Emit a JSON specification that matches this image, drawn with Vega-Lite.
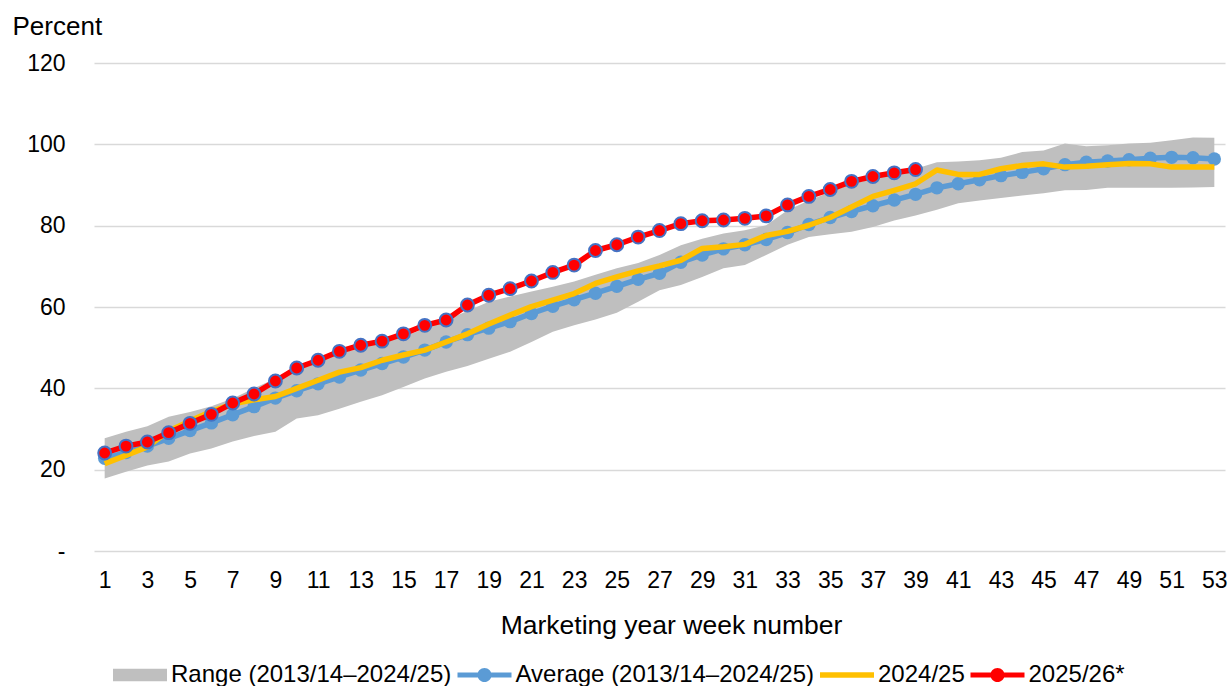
{
  "$schema": "https://vega.github.io/schema/vega-lite/v6.json",
  "width": 1131,
  "height": 488,
  "autosize": {"type": "none"},
  "padding": {"left": 94, "top": 63, "right": 4, "bottom": 135},
  "background": "white",
  "config": {
    "font": "Liberation Sans",
    "view": {"stroke": null},
    "axis": {"labelColor": "#000000", "titleColor": "#000000", "titleFontWeight": "normal"}
  },
  "data": {"values": [
    {"week": 1, "lo": 17.8, "hi": 27.7, "avg": 22.8, "y24": 21.5, "y25": 24.1},
    {"week": 2, "lo": 19.5, "hi": 29.3, "avg": 24.2, "y24": 23.5, "y25": 25.8},
    {"week": 3, "lo": 21.0, "hi": 30.7, "avg": 25.8, "y24": 25.6, "y25": 26.8},
    {"week": 4, "lo": 22.0, "hi": 33.0, "avg": 27.7, "y24": 29.5, "y25": 29.1},
    {"week": 5, "lo": 24.0, "hi": 34.2, "avg": 29.6, "y24": 32.0, "y25": 31.4},
    {"week": 6, "lo": 25.2, "hi": 35.6, "avg": 31.5, "y24": 34.3, "y25": 33.6},
    {"week": 7, "lo": 26.9, "hi": 37.5, "avg": 33.5, "y24": 36.2, "y25": 36.4},
    {"week": 8, "lo": 28.3, "hi": 40.0, "avg": 35.5, "y24": 37.2, "y25": 38.6},
    {"week": 9, "lo": 29.3, "hi": 42.4, "avg": 37.6, "y24": 38.0, "y25": 41.8},
    {"week": 10, "lo": 32.6, "hi": 44.9, "avg": 39.4, "y24": 40.0, "y25": 45.0},
    {"week": 11, "lo": 33.4, "hi": 46.9, "avg": 41.1, "y24": 42.0, "y25": 46.9},
    {"week": 12, "lo": 35.0, "hi": 48.6, "avg": 42.8, "y24": 44.0, "y25": 49.1},
    {"week": 13, "lo": 36.7, "hi": 49.8, "avg": 44.5, "y24": 45.1, "y25": 50.6},
    {"week": 14, "lo": 38.3, "hi": 51.4, "avg": 46.1, "y24": 46.9, "y25": 51.6},
    {"week": 15, "lo": 40.3, "hi": 52.7, "avg": 47.7, "y24": 48.2, "y25": 53.4},
    {"week": 16, "lo": 42.4, "hi": 54.7, "avg": 49.4, "y24": 49.4, "y25": 55.5},
    {"week": 17, "lo": 44.1, "hi": 56.8, "avg": 51.4, "y24": 51.4, "y25": 56.8},
    {"week": 18, "lo": 45.5, "hi": 59.0, "avg": 53.2, "y24": 53.4, "y25": 60.5},
    {"week": 19, "lo": 47.3, "hi": 61.3, "avg": 54.8, "y24": 55.8, "y25": 62.9},
    {"week": 20, "lo": 49.0, "hi": 62.6, "avg": 56.4, "y24": 58.0, "y25": 64.5},
    {"week": 21, "lo": 51.4, "hi": 63.8, "avg": 58.4, "y24": 60.1, "y25": 66.4},
    {"week": 22, "lo": 53.9, "hi": 65.0, "avg": 60.2, "y24": 61.7, "y25": 68.5},
    {"week": 23, "lo": 55.5, "hi": 66.3, "avg": 61.8, "y24": 63.3, "y25": 70.3},
    {"week": 24, "lo": 56.9, "hi": 67.9, "avg": 63.4, "y24": 65.8, "y25": 73.9},
    {"week": 25, "lo": 58.6, "hi": 69.5, "avg": 65.1, "y24": 67.4, "y25": 75.3},
    {"week": 26, "lo": 61.3, "hi": 70.8, "avg": 66.8, "y24": 68.9, "y25": 77.2},
    {"week": 27, "lo": 64.1, "hi": 72.8, "avg": 68.3, "y24": 70.1, "y25": 78.8},
    {"week": 28, "lo": 65.4, "hi": 75.2, "avg": 71.0, "y24": 71.5, "y25": 80.5},
    {"week": 29, "lo": 67.4, "hi": 76.8, "avg": 72.8, "y24": 74.4, "y25": 81.2},
    {"week": 30, "lo": 69.5, "hi": 78.1, "avg": 74.3, "y24": 74.8, "y25": 81.4},
    {"week": 31, "lo": 70.3, "hi": 78.9, "avg": 75.3, "y24": 75.4, "y25": 81.8},
    {"week": 32, "lo": 72.8, "hi": 80.1, "avg": 76.6, "y24": 77.6, "y25": 82.4},
    {"week": 33, "lo": 75.3, "hi": 83.8, "avg": 78.3, "y24": 78.6, "y25": 85.1},
    {"week": 34, "lo": 77.2, "hi": 86.2, "avg": 80.3, "y24": 80.1, "y25": 87.2},
    {"week": 35, "lo": 77.9, "hi": 88.3, "avg": 82.0, "y24": 82.0, "y25": 88.9},
    {"week": 36, "lo": 78.5, "hi": 90.3, "avg": 83.5, "y24": 84.6, "y25": 90.9},
    {"week": 37, "lo": 79.7, "hi": 91.5, "avg": 84.9, "y24": 87.2, "y25": 92.1},
    {"week": 38, "lo": 81.3, "hi": 92.8, "avg": 86.3, "y24": 88.7, "y25": 93.0},
    {"week": 39, "lo": 82.5, "hi": 94.0, "avg": 87.7, "y24": 90.3, "y25": 93.8},
    {"week": 40, "lo": 83.9, "hi": 95.6, "avg": 89.3, "y24": 93.7},
    {"week": 41, "lo": 85.5, "hi": 95.8, "avg": 90.3, "y24": 92.6},
    {"week": 42, "lo": 86.2, "hi": 96.1, "avg": 91.3, "y24": 92.6},
    {"week": 43, "lo": 86.8, "hi": 96.7, "avg": 92.3, "y24": 94.0},
    {"week": 44, "lo": 87.4, "hi": 98.1, "avg": 93.1, "y24": 94.8},
    {"week": 45, "lo": 88.0, "hi": 98.5, "avg": 94.0, "y24": 95.2},
    {"week": 46, "lo": 88.7, "hi": 100.2, "avg": 95.0, "y24": 94.4},
    {"week": 47, "lo": 88.8, "hi": 99.5, "avg": 95.6, "y24": 94.6},
    {"week": 48, "lo": 89.3, "hi": 99.8, "avg": 95.9, "y24": 95.0},
    {"week": 49, "lo": 89.3, "hi": 100.2, "avg": 96.2, "y24": 95.3},
    {"week": 50, "lo": 89.3, "hi": 100.4, "avg": 96.6, "y24": 95.2},
    {"week": 51, "lo": 89.3, "hi": 101.0, "avg": 96.8, "y24": 94.4},
    {"week": 52, "lo": 89.4, "hi": 101.7, "avg": 96.7, "y24": 94.4},
    {"week": 53, "lo": 89.5, "hi": 101.6, "avg": 96.4, "y24": 94.4}
  ]},
  "encoding": {
    "x": {
      "field": "week", "type": "quantitative",
      "scale": {"domain": [0.5, 53.5], "nice": false, "zero": false},
      "axis": {
        "title": "Marketing year week number",
        "values": [1,3,5,7,9,11,13,15,17,19,21,23,25,27,29,31,33,35,37,39,41,43,45,47,49,51,53],
        "format": "d", "grid": false, "domain": false, "ticks": false,
        "labelFontSize": 23, "labelPadding": 18, "labelFlush": false,
        "titleFontSize": 26.5, "titlePadding": 20, "titleX": 577, "titleAlign": "center"
      }
    }
  },
  "layer": [
    {
      "mark": {"type": "area", "opacity": 1},
      "encoding": {
        "y": {
          "field": "lo", "type": "quantitative",
          "scale": {"domain": [0, 120], "nice": false},
          "axis": {
            "title": "Percent",
            "values": [0, 20, 40, 60, 80, 100, 120],
            "grid": true, "gridColor": "#D9D9D9", "gridWidth": 1.5,
            "domain": false, "ticks": false,
            "labelPadding": 29, "labelFontSize": 23,
            "labelExpr": "datum.value === 0 ? '-\u00a0\u00a0' : datum.label",
            "titleAngle": 0, "titleAlign": "left", "titleBaseline": "alphabetic",
            "titleX": -82, "titleY": -29, "titleFontSize": 26
          }
        },
        "y2": {"field": "hi"},
        "color": {
          "datum": "Range (2013/14–2024/25)", "type": "nominal",
          "scale": {
            "domain": ["Range (2013/14–2024/25)", "Average (2013/14–2024/25)", "2024/25", "2025/26*"],
            "range": ["#BFBFBF", "#5B9BD5", "#FFC000", "#FF0000"]
          },
          "legend": {
            "orient": "none", "direction": "horizontal", "columns": 4,
            "legendX": 19, "legendY": 585, "title": null, "padding": 0,
            "labelFontSize": 24, "labelColor": "#000000", "labelOffset": 4,
            "columnPadding": 5.5, "symbolSize": 2916, "labelLimit": 0,
            "symbolStrokeWidth": 0,
            "symbolType": {"expr": "datum.value === 'Range (2013/14–2024/25)' ? 'M-1,-0.23H1V0.23H-1Z' : datum.value === '2024/25' ? 'M-1,-0.1H1V0.1H-1Z' : 'M-1,-0.09H1V0.09H-1Z M0.26,0A0.26,0.26 0 1 1 -0.26,0A0.26,0.26 0 1 1 0.26,0Z'"},
            "encode": {
              "symbols": {
                "update": {
                  "fill": {"scale": "color", "field": "value"},
                  "opacity": {"value": 1},
                  "fillOpacity": {"value": 1}
                }
              }
            }
          }
        }
      }
    },
    {
      "mark": {"type": "line", "strokeWidth": 5.5, "strokeJoin": "round"},
      "encoding": {
        "y": {"field": "avg", "type": "quantitative"},
        "color": {"datum": "Average (2013/14–2024/25)", "type": "nominal"}
      }
    },
    {
      "mark": {"type": "point", "filled": true, "size": 180, "color": "#5B9BD5", "opacity": 1},
      "encoding": {
        "y": {"field": "avg", "type": "quantitative"}
      }
    },
    {
      "mark": {"type": "line", "strokeWidth": 5.5, "strokeJoin": "round"},
      "encoding": {
        "y": {"field": "y24", "type": "quantitative"},
        "color": {"datum": "2024/25", "type": "nominal"}
      }
    },
    {
      "mark": {"type": "line", "strokeWidth": 5.5, "strokeJoin": "round"},
      "encoding": {
        "y": {"field": "y25", "type": "quantitative"},
        "color": {"datum": "2025/26*", "type": "nominal"}
      }
    },
    {
      "mark": {"type": "point", "filled": true, "size": 165, "fill": "#FF0000", "stroke": "#4472C4", "strokeWidth": 2, "opacity": 1},
      "encoding": {
        "y": {"field": "y25", "type": "quantitative"}
      }
    }
  ]
}
